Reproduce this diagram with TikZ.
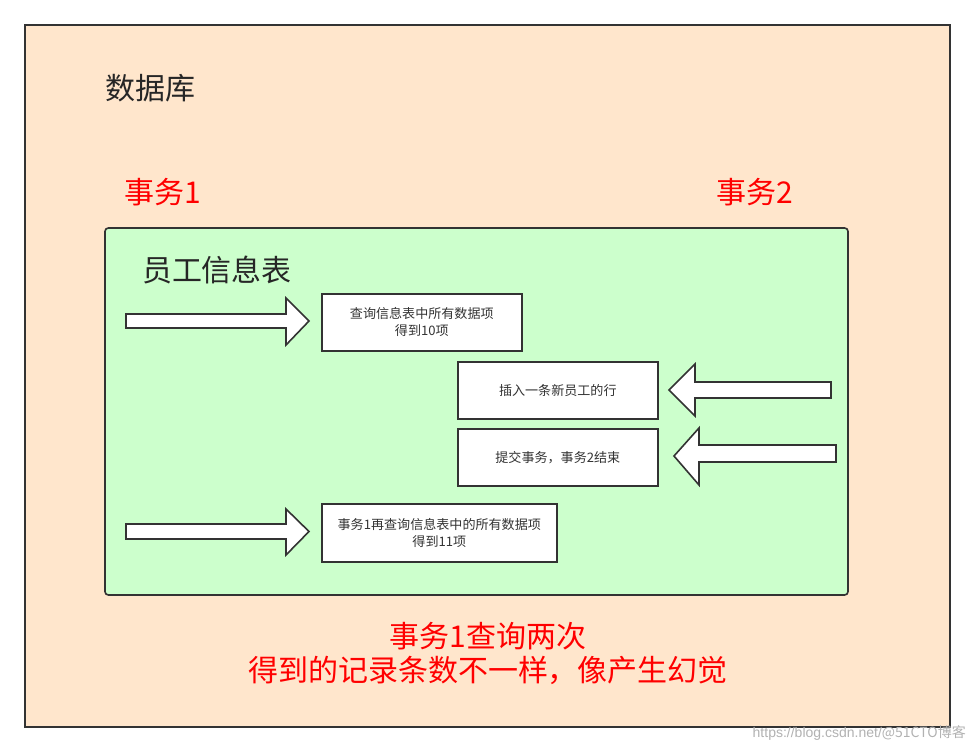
\documentclass[tikz,border=0pt]{standalone}
\usepackage{fontspec}
\setmainfont{Noto Sans CJK SC}
\newfontfamily\wmfont{Liberation Sans}
\begin{document}
\begin{tikzpicture}[x=0.75pt,y=-0.75pt,
  frame/.style={draw=black!80,line width=1.2pt},
  dbbox/.style={frame,fill=peach},
  tblbox/.style={frame,fill=mint,rounded corners=2.5pt},
  stepbox/.style={frame,fill=white,anchor=north west,inner sep=0pt,align=center,font=\fontsize{9.8pt}{12.8pt}\selectfont,text=black!80},
  bigtext/.style={font=\fontsize{22.5pt}{26pt}\selectfont,text=black!85},
  redtext/.style={font=\fontsize{22.5pt}{25.5pt}\selectfont,text=red,align=center},
  blockarrow/.style={frame,fill=white,line join=miter}
]
\definecolor{peach}{HTML}{FFE6CC}
\definecolor{mint}{HTML}{CCFFCC}
\useasboundingbox (0,0) rectangle (976,752);
\fill[white] (0,0) rectangle (976,752);
\draw[dbbox] (25,25) rectangle (950,727);
\node[bigtext] (db) at (150,88) {数据库};
\node[redtext] (t1) at (163,192) {事务1};
\node[redtext] (t2) at (755,192) {事务2};
\draw[tblbox] (105,228) rectangle (848,595);
\node[bigtext] (tbl) at (217,270) {员工信息表};

\node[stepbox,minimum width=200*0.75pt,minimum height=57*0.75pt] (b1) at (321,293) {查询信息表中所有数据项\\得到10项};
\node[stepbox,minimum width=200*0.75pt,minimum height=57*0.75pt] (b2) at (457,361) {插入一条新员工的行};
\node[stepbox,minimum width=200*0.75pt,minimum height=57*0.75pt] (b3) at (457,428) {提交事务，事务2结束};
\node[stepbox,minimum width=235*0.75pt,minimum height=58*0.75pt] (b4) at (321,503) {事务1再查询信息表中的所有数据项\\得到11项};

% right-pointing block arrows
\draw[blockarrow] (126,314) -- (286,314) -- (286,298) -- (309,321) -- (286,345) -- (286,328) -- (126,328) -- cycle;
\draw[blockarrow] (126,524) -- (286,524) -- (286,509) -- (309,531.5) -- (286,555) -- (286,539) -- (126,539) -- cycle;
% left-pointing block arrows
\draw[blockarrow] (831,382) -- (695,382) -- (695,364) -- (669,390) -- (695,416) -- (695,398) -- (831,398) -- cycle;
\draw[blockarrow] (836,445) -- (699,445) -- (699,428) -- (674,456) -- (699,485) -- (699,462) -- (836,462) -- cycle;

\node[redtext] (note) at (488,653) {事务1查询两次\\得到的记录条数不一样，像产生幻觉};

\node[text=black!30,font=\fontsize{10.5pt}{12pt}\selectfont,anchor=east,inner sep=0pt] (wm) at (966,733) {{\wmfont https://blog.csdn.net/}@51CTO博客};
\end{tikzpicture}
\end{document}
